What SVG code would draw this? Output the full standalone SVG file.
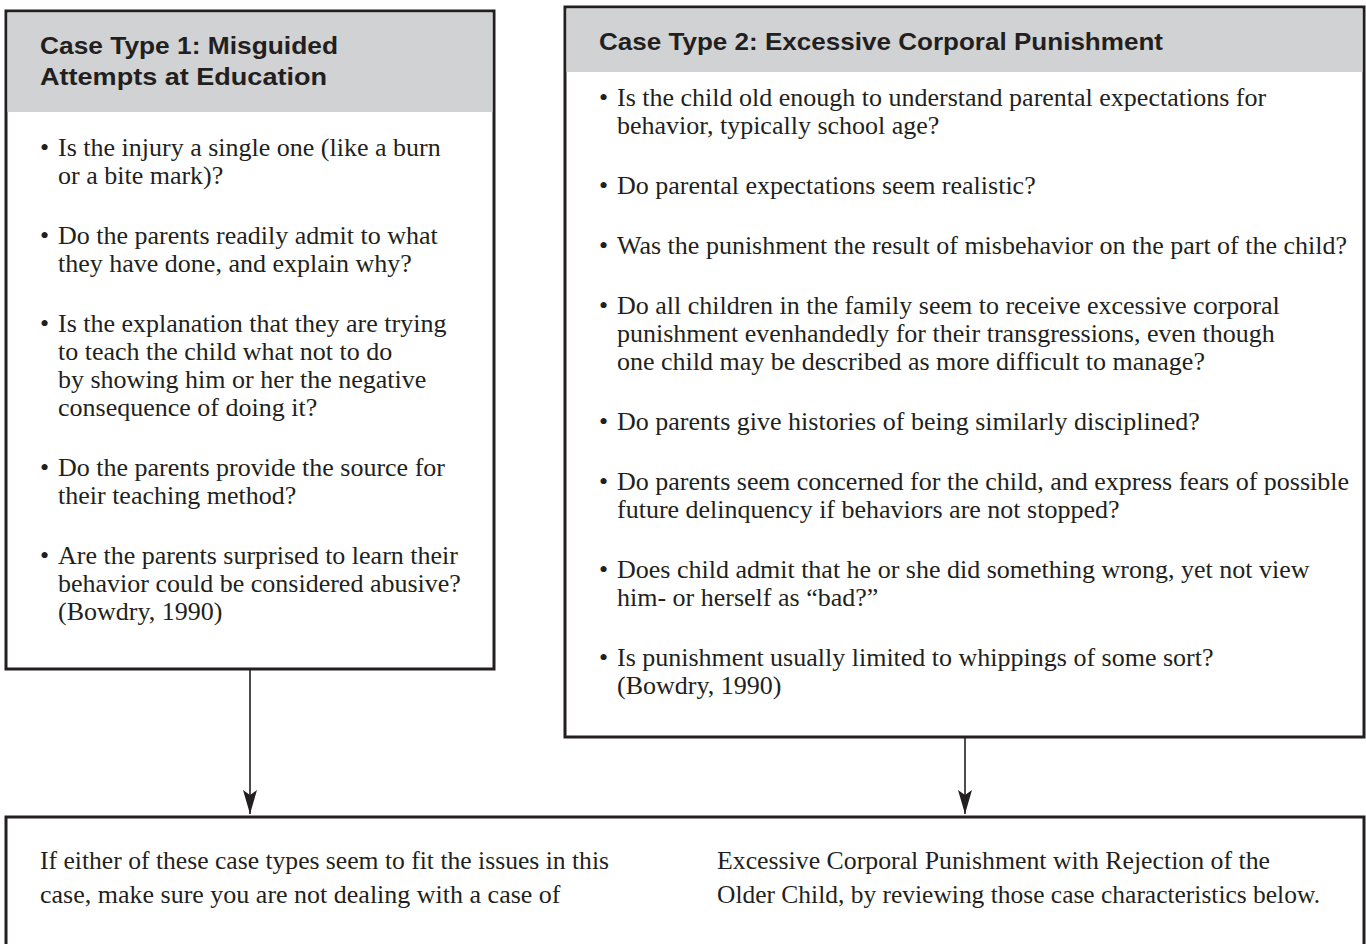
<svg xmlns="http://www.w3.org/2000/svg" width="1366" height="944" viewBox="0 0 1366 944">
<style>
.box{fill:#ffffff;stroke:#231f20;stroke-width:3}
.hdr{fill:#d1d2d4}
.ttl{font-family:"Liberation Sans",Arial,sans-serif;font-weight:bold;font-size:24px;fill:#231f20}
.txt{font-family:"Liberation Serif","Times New Roman",serif;font-size:26px;fill:#231f20}
.conn{stroke:#231f20;stroke-width:1.6;fill:none}
</style>
<defs>
<marker id="arr" viewBox="0 0 14 24" refX="7" refY="24" markerWidth="14" markerHeight="24" markerUnits="userSpaceOnUse" orient="0">
<path d="M0,0 L7,5 L14,0 L7,24 z" fill="#231f20"/>
</marker>
</defs>
<rect width="1366" height="944" fill="#ffffff"/>

<g id="node-case1">
<rect class="box" x="6" y="11" width="488" height="658"/>
<rect class="hdr" x="7.5" y="12.5" width="485" height="99.5"/>
<text class="ttl" x="40" y="54" textLength="298" lengthAdjust="spacingAndGlyphs">Case Type 1: Misguided</text>
<text class="ttl" x="40" y="85" textLength="287" lengthAdjust="spacingAndGlyphs">Attempts at Education</text>
<g class="txt">
<text x="40" y="156">•</text><text x="58" y="156">Is the injury a single one (like a burn</text>
<text x="58" y="184">or a bite mark)?</text>
<text x="40" y="244">•</text><text x="58" y="244">Do the parents readily admit to what</text>
<text x="58" y="272">they have done, and explain why?</text>
<text x="40" y="332">•</text><text x="58" y="332">Is the explanation that they are trying</text>
<text x="58" y="360">to teach the child what not to do</text>
<text x="58" y="388">by showing him or her the negative</text>
<text x="58" y="416">consequence of doing it?</text>
<text x="40" y="476">•</text><text x="58" y="476">Do the parents provide the source for</text>
<text x="58" y="504">their teaching method?</text>
<text x="40" y="564">•</text><text x="58" y="564">Are the parents surprised to learn their</text>
<text x="58" y="592">behavior could be considered abusive?</text>
<text x="58" y="620">(Bowdry, 1990)</text>
</g>
</g>

<g id="node-case2">
<rect class="box" x="565" y="7" width="799" height="730"/>
<rect class="hdr" x="566.5" y="8.5" width="796" height="63.5"/>
<text class="ttl" x="599" y="50" textLength="564" lengthAdjust="spacingAndGlyphs">Case Type 2: Excessive Corporal Punishment</text>
<g class="txt">
<text x="599" y="106">•</text><text x="617" y="106">Is the child old enough to understand parental expectations for</text>
<text x="617" y="134">behavior, typically school age?</text>
<text x="599" y="194">•</text><text x="617" y="194">Do parental expectations seem realistic?</text>
<text x="599" y="254">•</text><text x="617" y="254">Was the punishment the result of misbehavior on the part of the child?</text>
<text x="599" y="314">•</text><text x="617" y="314">Do all children in the family seem to receive excessive corporal</text>
<text x="617" y="342">punishment evenhandedly for their transgressions, even though</text>
<text x="617" y="370">one child may be described as more difficult to manage?</text>
<text x="599" y="430">•</text><text x="617" y="430">Do parents give histories of being similarly disciplined?</text>
<text x="599" y="490">•</text><text x="617" y="490">Do parents seem concerned for the child, and express fears of possible</text>
<text x="617" y="518">future delinquency if behaviors are not stopped?</text>
<text x="599" y="578">•</text><text x="617" y="578">Does child admit that he or she did something wrong, yet not view</text>
<text x="617" y="606">him- or herself as “bad?”</text>
<text x="599" y="666">•</text><text x="617" y="666">Is punishment usually limited to whippings of some sort?</text>
<text x="617" y="694">(Bowdry, 1990)</text>
</g>
</g>

<g id="node-result">
<rect class="box" x="6" y="817" width="1358" height="150"/>
<g class="txt">
<text x="40" y="869" textLength="569" lengthAdjust="spacingAndGlyphs">If either of these case types seem to fit the issues in this</text>
<text x="40" y="903">case, make sure you are not dealing with a case of</text>
<text x="717" y="869" textLength="553" lengthAdjust="spacingAndGlyphs">Excessive Corporal Punishment with Rejection of the</text>
<text x="717" y="903" textLength="603" lengthAdjust="spacingAndGlyphs">Older Child, by reviewing those case characteristics below.</text>
</g>
</g>

<g id="connectors">
<line class="conn" x1="250" y1="670" x2="250" y2="814" marker-end="url(#arr)"/>
<line class="conn" x1="965" y1="738" x2="965" y2="814" marker-end="url(#arr)"/>
</g>
</svg>
